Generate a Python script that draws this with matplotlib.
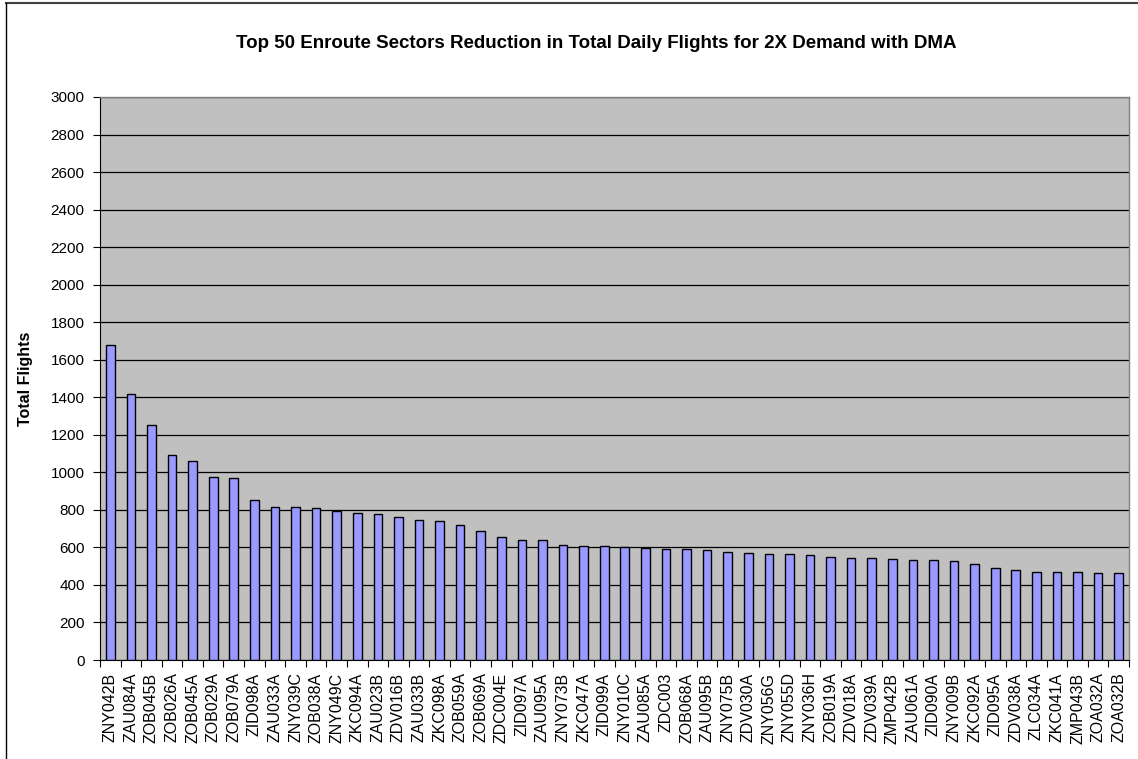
import matplotlib
matplotlib.use("Agg")
import matplotlib.pyplot as plt
from matplotlib.lines import Line2D
import numpy as np

plt.rcParams['font.family'] = ['Liberation Sans', 'DejaVu Sans']

sectors = ["ZNY042B", "ZAU084A", "ZOB045B", "ZOB026A", "ZOB045A", "ZOB029A", "ZOB079A",
           "ZID098A", "ZAU033A", "ZNY039C", "ZOB038A", "ZNY049C", "ZKC094A", "ZAU023B",
           "ZDV016B", "ZAU033B", "ZKC098A", "ZOB059A", "ZOB069A", "ZDC004E", "ZID097A",
           "ZAU095A", "ZNY073B", "ZKC047A", "ZID099A", "ZNY010C", "ZAU085A", "ZDC003",
           "ZOB068A", "ZAU095B", "ZNY075B", "ZDV030A", "ZNY056G", "ZNY055D", "ZNY036H",
           "ZOB019A", "ZDV018A", "ZDV039A", "ZMP042B", "ZAU061A", "ZID090A", "ZNY009B",
           "ZKC092A", "ZID095A", "ZDV038A", "ZLC034A", "ZKC041A", "ZMP043B", "ZOA032A",
           "ZOA032B"]
flights = [1680, 1416, 1251, 1092, 1058, 975, 968, 853, 814, 813,
           812, 795, 782, 780, 763, 747, 740, 717, 685, 658,
           642, 637, 614, 607, 605, 602, 598, 593, 589, 584,
           577, 570, 566, 565, 559, 547, 543, 542, 540, 535,
           533, 529, 510, 492, 480, 471, 469, 467, 464, 464]
yticks = list(range(0, 3001, 200))

W, H = 1138, 759
fig = plt.figure(figsize=(W / 100, H / 100), dpi=100)
fig.patch.set_facecolor('white')
# outer chart border (only top and left edges visible in the reference)
fig.lines.append(Line2D([5.5 / W, 1.0], [1 - 2.5 / H, 1 - 2.5 / H], transform=fig.transFigure,
                        color='#404040', linewidth=1.5))
fig.lines.append(Line2D([5.5 / W, 5.5 / W], [0.0, 1 - 2.5 / H], transform=fig.transFigure,
                        color='black', linewidth=1.0))

ax = fig.add_axes([100 / W, (H - 660) / H, 1029 / W, 563 / H])
ax.set_facecolor('#C0C0C0')

x = np.arange(len(sectors))
ax.bar(x, flights, width=0.42, color='#9999FF', edgecolor='black', linewidth=1.0, zorder=3)

ax.set_xlim(-0.5, len(sectors) - 0.5)
ax.set_ylim(0, 3000)
ax.set_yticks(yticks)
ax.set_yticklabels([str(v) for v in yticks], fontsize=11)
ax.yaxis.grid(True, color='black', linewidth=0.9, zorder=1)
ax.set_axisbelow(True)

ax.set_xticks(np.arange(len(sectors) + 1) - 0.5)
ax.set_xticklabels([])
ax.set_xticks(x, minor=True)
ax.set_xticklabels(sectors, minor=True, rotation=90, fontsize=11.5)
ax.tick_params(axis='x', which='minor', length=0, pad=9)
ax.tick_params(axis='x', which='major', length=5, width=0.8, direction='out')
ax.tick_params(axis='y', length=5, width=0.8, direction='out', pad=6)

for side in ['top', 'right']:
    ax.spines[side].set_color('#808080')
    ax.spines[side].set_linewidth(1.0)
for side in ['left', 'bottom']:
    ax.spines[side].set_color('black')
    ax.spines[side].set_linewidth(0.8)

ax.set_ylabel('Total Flights', fontsize=11.5, fontweight='bold', labelpad=0)
ax.yaxis.set_label_coords(-67 / 1029, (660 - 379) / 563)

fig.text(596 / W, 1 - 44 / H, 'Top 50 Enroute Sectors Reduction in Total Daily Flights for 2X Demand with DMA',
         ha='center', va='center', fontsize=13.5, fontweight='bold')

fig.savefig('out.png', dpi=100)
